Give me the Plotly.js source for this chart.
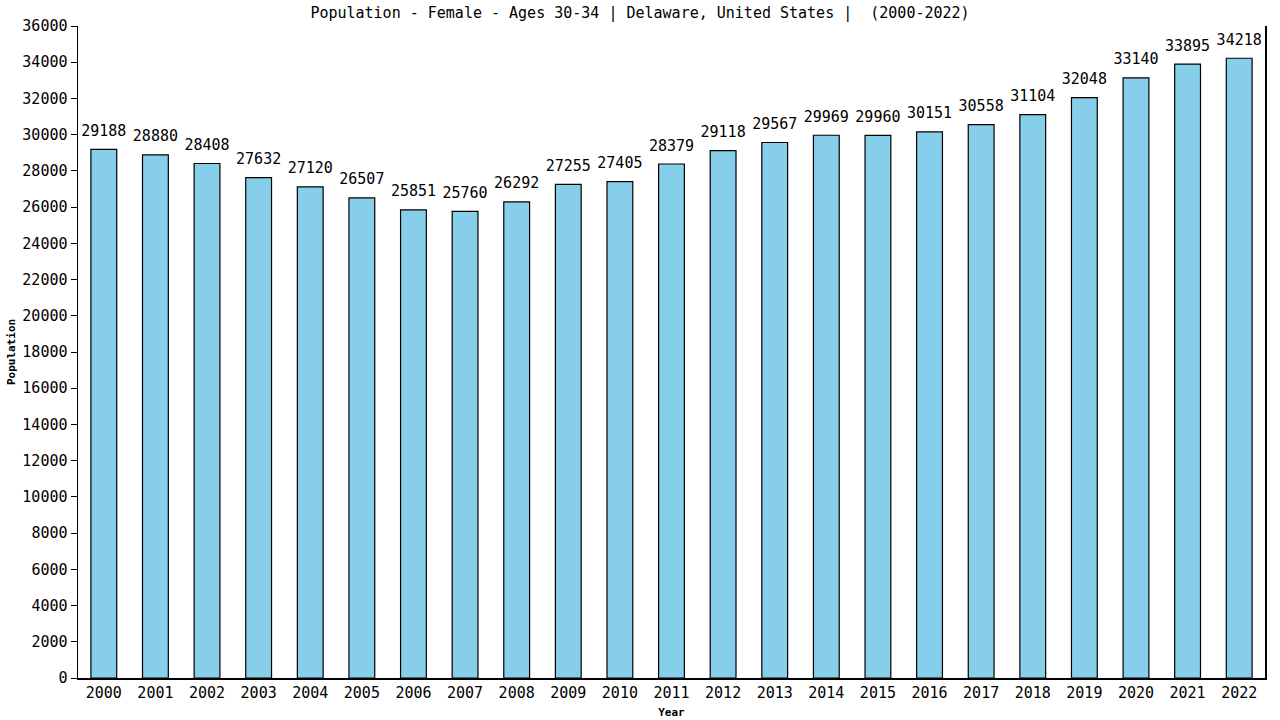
<!DOCTYPE html>
<html>
<head>
<meta charset="utf-8">
<script src="https://cdn.plot.ly/plotly-3.0.1.min.js"></script>
<style>
  html, body { margin: 0; padding: 0; background: #fff; }
  #chart { width: 1280px; height: 720px; }
</style>
</head>
<body>
<div id="chart"></div>
<script>
const years = ['2000', '2001', '2002', '2003', '2004', '2005', '2006', '2007', '2008', '2009', '2010',
  '2011', '2012', '2013', '2014', '2015', '2016', '2017', '2018', '2019', '2020', '2021', '2022'];
const population = [29188, 28880, 28408, 27632, 27120, 26507, 25851, 25760, 26292, 27255, 27405,
  28379, 29118, 29567, 29969, 29960, 30151, 30558, 31104, 32048, 33140, 33895, 34218];
const yTicks = [];
for (let v = 0; v <= 36000; v += 2000) yTicks.push(v);

const mono = 'DejaVu Sans Mono, Liberation Mono, monospace';

const data = [
  {
    type: 'bar',
    x: years,
    y: population,
    width: 0.5,
    marker: { color: '#87CEEB', line: { color: '#000', width: 1.2 } },
    hoverinfo: 'x+y'
  },
  {
    // value labels above each bar (invisible marker just pushes the text up)
    type: 'scatter',
    mode: 'markers+text',
    x: years,
    y: population,
    marker: { size: 14, opacity: 0 },
    text: population.map(String),
    textposition: 'top center',
    cliponaxis: false,
    textfont: { family: mono, size: 15, color: '#000' },
    hoverinfo: 'skip'
  }
];

const layout = {
  width: 1280,
  height: 720,
  margin: { l: 78, r: 15, t: 26, b: 42 },
  paper_bgcolor: '#fff',
  plot_bgcolor: '#fff',
  showlegend: false,
  title: {
    text: 'Population - Female - Ages 30-34 | Delaware, United States |  (2000-2022)',
    font: { family: mono, size: 15, color: '#000' },
    x: 0.5, xanchor: 'center', y: 0.982, yanchor: 'middle'
  },
  xaxis: {
    type: 'category',
    range: [-0.5, 22.5],
    showgrid: false,
    showline: true,
    linecolor: '#000',
    linewidth: 1.5,
    ticks: '',
    tickfont: { family: mono, size: 15, color: '#000' },
    title: { text: '<b>Year</b>', font: { family: mono, size: 11, color: '#000' }, standoff: 8 }
  },
  yaxis: {
    range: [0, 36000],
    tickvals: yTicks,
    ticktext: yTicks.map(String),
    showgrid: false,
    zeroline: false,
    showline: true,
    mirror: true,
    linecolor: '#000',
    linewidth: 1.5,
    ticks: 'outside',
    ticklen: 6,
    tickcolor: '#000',
    tickfont: { family: mono, size: 15, color: '#000' },
    title: { text: '<b>Population</b>', font: { family: mono, size: 11, color: '#000' }, standoff: 4 }
  },
  bargap: 0.5
};

Plotly.newPlot('chart', data, layout, { displayModeBar: false, staticPlot: true });
</script>
</body>
</html>
